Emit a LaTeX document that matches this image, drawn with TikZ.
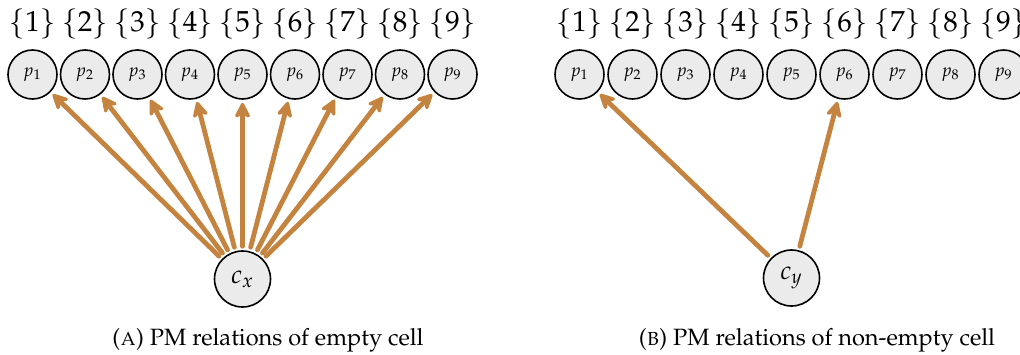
\documentclass[tikz,border=0pt]{standalone}
\usepackage[T1]{fontenc}
\usepackage{mathpazo}
\usetikzlibrary{arrows.meta}
\definecolor{linkbrown}{RGB}{196,132,64}
\definecolor{cellgray}{RGB}{235,235,235}
\begin{document}
\begin{tikzpicture}[x=0.5pt,y=-0.5pt,
  pnode/.style={circle, draw, line width=0.8pt, fill=cellgray,
    minimum size=24.5pt, inner sep=0pt, font=\fontsize{9}{9}\selectfont},
  cnode/.style={circle, draw, line width=0.8pt, fill=cellgray,
    minimum size=28pt, inner sep=0pt, font=\fontsize{13}{13}\selectfont},
  setlabel/.style={inner sep=0pt, font=\fontsize{14.5}{14.5}\selectfont},
  link/.style={draw=linkbrown, line width=2.4pt, line cap=round,
    -{Stealth[length=10pt, width=10pt, inset=3.5pt, round]},
    shorten >=1.5pt, shorten <=2pt},
  caption/.style={inner sep=0pt, anchor=base, font=\fontsize{11.8}{11.8}\selectfont}]
\useasboundingbox (0,0) rectangle (1020,354);

% left panel: empty cell linked to every position
\foreach \i in {1,...,9} {
  \node[pnode] (a\i) at ({32.5+(\i-1)*52.5},74.5) {$p_{\i}$};
  \node[setlabel] (sa\i) at ({32.5+(\i-1)*52.5},24) {$\{\i\}$};
}
\node[cnode] (cx) at (242.5,279) {$c_x$};
\foreach \i in {1,...,9} { \draw[link] (cx) -- (a\i); }
\node[caption] (capa) at (268,345) {(\textsc{a}) PM relations of empty cell};

% right panel: non-empty cell linked to two positions
\foreach \i in {1,...,9} {
  \node[pnode] (b\i) at ({579.5+(\i-1)*53},74.5) {$p_{\i}$};
  \node[setlabel] (sb\i) at ({579.5+(\i-1)*53},24) {$\{\i\}$};
}
\node[cnode] (cy) at (791.5,278) {$c_y$};
\draw[link] (cy) -- (b1);
\draw[link] (cy) -- (b6);
\node[caption] (capb) at (817,345) {(\textsc{b}) PM relations of non-empty cell};
\end{tikzpicture}
\end{document}
